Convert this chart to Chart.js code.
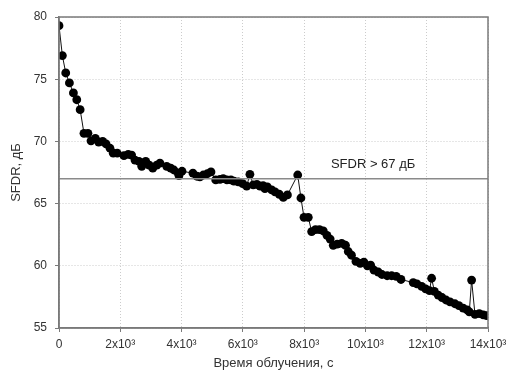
<!DOCTYPE html>
<html>
<head>
<meta charset="utf-8">
<script src="https://cdn.jsdelivr.net/npm/chart.js@4/dist/chart.umd.min.js"></script>
<style>
  html, body { margin: 0; padding: 0; background: #fff; }
  #wrap { width: 508px; height: 371px; }
</style>
</head>
<body>
<div id="wrap"><canvas id="chart"></canvas></div>
<script>
// irradiation time, s
var times = [0, 110, 220, 340, 470, 580, 690, 815, 945, 1045, 1185, 1295, 1425, 1535, 1665, 1770, 1900,
  2120, 2260, 2370, 2480, 2610, 2700, 2830, 2945, 3060, 3190, 3295, 3515, 3645, 3750, 3890, 3915, 4015,
  4370, 4500, 4600, 4710, 4840, 4960, 5115, 5255, 5360, 5480, 5610, 5710, 5850, 5995, 6125, 6230, 6340,
  6460, 6560, 6660, 6720, 6800, 6940, 7050, 7190, 7320, 7455, 7790, 7895, 7995, 8135, 8245, 8370, 8500,
  8625, 8745, 8850, 8950, 9080, 9225, 9350, 9440, 9545, 9690, 9830, 9950, 10065, 10170, 10280, 10420,
  10540, 10710, 10855, 11005, 11160, 11560, 11680, 11835, 11965, 12090, 12160, 12250, 12375, 12500,
  12630, 12760, 12920, 13050, 13190, 13320, 13390, 13465, 13575, 13715, 13845, 13955];
// SFDR, dB
var sfdr = [79.3, 76.9, 75.5, 74.7, 73.9, 73.35, 72.55, 70.65, 70.65, 70.05, 70.25, 69.95, 70.0, 69.8, 69.45, 69.05, 69.05,
  68.85, 68.95, 68.9, 68.5, 68.4, 68.0, 68.4, 68.1, 67.85, 68.1, 68.25, 68.0, 67.85, 67.7, 67.45, 67.25, 67.6,
  67.45, 67.2, 67.15, 67.3, 67.4, 67.55, 66.9, 66.95, 67.0, 66.9, 66.9, 66.8, 66.75, 66.6, 66.4, 67.35, 66.5,
  66.55, 66.4, 66.45, 66.2, 66.35, 66.1, 65.95, 65.75, 65.5, 65.7, 67.3, 65.45, 63.9, 63.9, 62.75, 62.9, 62.9,
  62.8, 62.45, 62.15, 61.65, 61.75, 61.8, 61.65, 61.15, 60.85, 60.35, 60.2, 60.3, 60.0, 60.05, 59.65, 59.5,
  59.3, 59.2, 59.2, 59.15, 58.9, 58.65, 58.55, 58.35, 58.15, 58.0, 59.0, 57.95, 57.65, 57.45,
  57.25, 57.1, 56.95, 56.8, 56.6, 56.45, 56.3, 58.85, 56.1, 56.15, 56.05, 56.0];

var thresholdX = [0, 14000];
var thresholdY = [67, 67];
var thresholdLabel = 'SFDR > 67 дБ';

var xTicks = [0, 2000, 4000, 6000, 8000, 10000, 12000, 14000];
var xTickLabels = ['0', '2x10³', '4x10³', '6x10³', '8x10³', '10x10³', '12x10³', '14x10³'];
var yTicks = [55, 60, 65, 70, 75, 80];

var points = times.map(function (t, i) { return { x: t, y: sfdr[i] }; });
var thrPoints = thresholdX.map(function (t, i) { return { x: t, y: thresholdY[i] }; });

var fontFamily = "'Liberation Sans', Arial, sans-serif";

// solid frame round the plot + threshold label
var framePlugin = {
  id: 'frame',
  afterDraw: function (chart) {
    var a = chart.chartArea;
    var ctx = chart.ctx;
    ctx.save();
    ctx.strokeStyle = '#7a7a7a';
    ctx.lineWidth = 1.5;
    ctx.strokeRect(a.left, a.top, a.right - a.left, a.bottom - a.top);
    var xs = chart.scales.x, ys = chart.scales.y;
    ctx.fillStyle = '#222';
    ctx.font = '13px ' + fontFamily;
    ctx.textAlign = 'center';
    ctx.textBaseline = 'alphabetic';
    ctx.fillText(thresholdLabel, xs.getPixelForValue(10250), ys.getPixelForValue(67) - 11);
    ctx.restore();
  }
};

new Chart(document.getElementById('chart'), {
  type: 'scatter',
  data: {
    datasets: [
      {
        data: thrPoints,
        showLine: true,
        borderColor: '#8a8a8a',
        borderWidth: 1.5,
        pointRadius: 0
      },
      {
        data: points,
        showLine: true,
        borderColor: '#111',
        borderWidth: 1,
        backgroundColor: '#000',
        pointBackgroundColor: '#000',
        pointBorderColor: '#000',
        pointRadius: 4.4,
        pointBorderWidth: 0
      }
    ]
  },
  plugins: [framePlugin],
  options: {
    responsive: true,
    maintainAspectRatio: false,
    animation: false,
    layout: { padding: { left: 0, top: 17, right: 20, bottom: 0 } },
    plugins: {
      legend: { display: false },
      tooltip: { enabled: false }
    },
    scales: {
      x: {
        type: 'linear',
        min: 0,
        max: 14000,
        afterBuildTicks: function (scale) {
          scale.ticks = xTicks.map(function (v) { return { value: v }; });
        },
        afterFit: function (scale) {
          scale.height = 43;
          scale.paddingLeft = 0;
          scale.paddingRight = 0;
        },
        ticks: {
          autoSkip: false,
          maxRotation: 0,
          padding: 5,
          color: '#333',
          font: { family: fontFamily, size: 12 },
          callback: function (v) { return xTickLabels[xTicks.indexOf(v)]; }
        },
        grid: {
          color: '#cccccc',
          tickColor: '#7a7a7a',
          tickLength: 4,
          drawTicks: true
        },
        border: { display: true, color: '#7a7a7a', width: 1.5, dash: [1, 2] },
        title: {
          display: true,
          text: 'Время облучения, с',
          color: '#333',
          font: { family: fontFamily, size: 13 },
          padding: { top: 0, bottom: 0 }
        }
      },
      y: {
        type: 'linear',
        min: 55,
        max: 80,
        afterBuildTicks: function (scale) {
          scale.ticks = yTicks.map(function (v) { return { value: v }; });
        },
        afterFit: function (scale) { scale.width = 59; },
        ticks: {
          padding: 8,
          color: '#333',
          font: { family: fontFamily, size: 12 }
        },
        grid: {
          color: '#cccccc',
          tickColor: '#7a7a7a',
          tickLength: 4
        },
        border: { display: true, color: '#7a7a7a', width: 1.5, dash: [1, 2] },
        title: {
          display: true,
          text: 'SFDR, дБ',
          color: '#333',
          font: { family: fontFamily, size: 13 },
          padding: { top: 9, bottom: 0 }
        }
      }
    }
  }
});
</script>
</body>
</html>
